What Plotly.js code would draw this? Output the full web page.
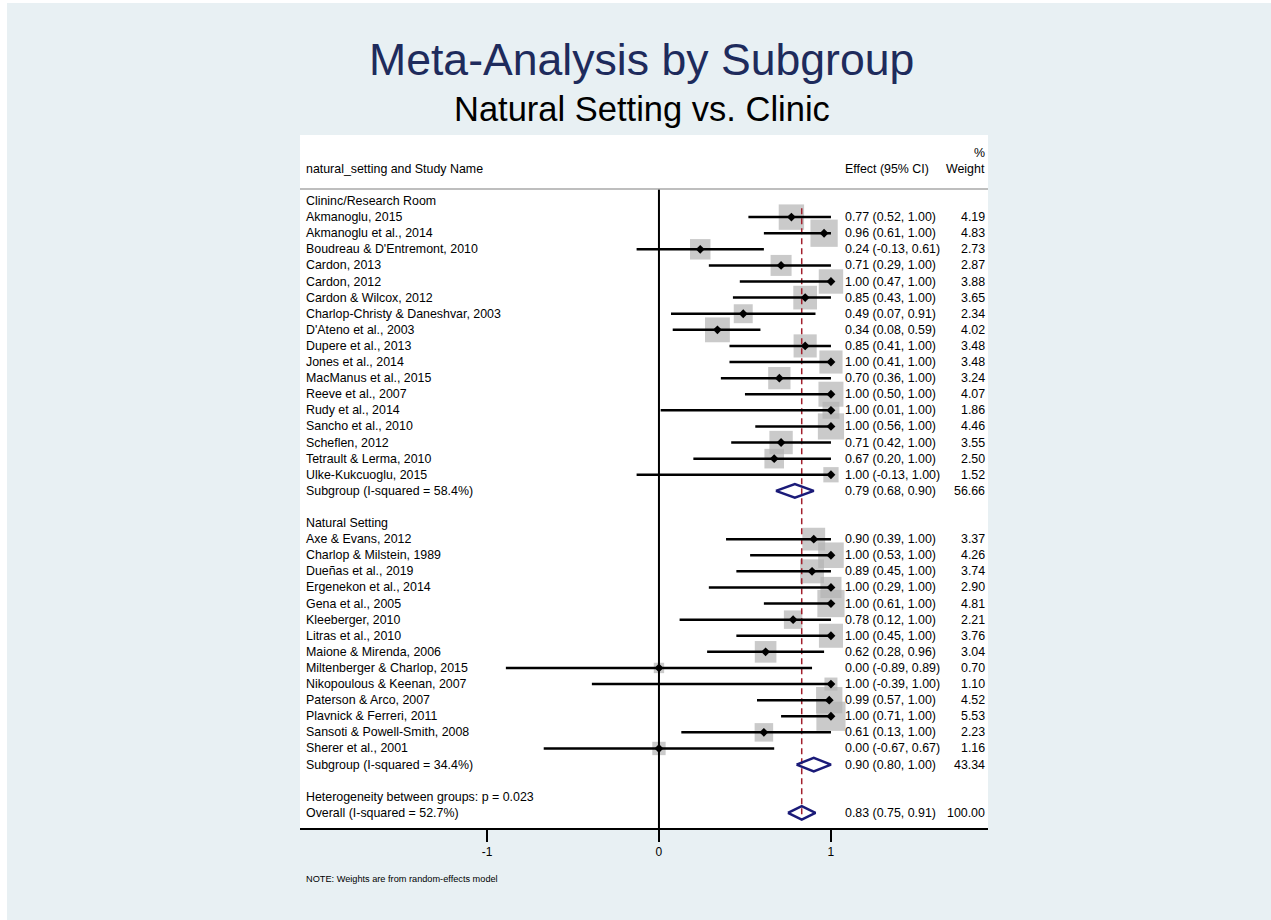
<!DOCTYPE html>
<html>
<head>
<meta charset="utf-8">
<script src="https://cdn.plot.ly/plotly-3.0.1.min.js"></script>
<style>html,body{margin:0;padding:0;background:#e8f0f3;}#chart{width:1271px;height:920px;}</style>
</head>
<body>
<div id="chart"></div>
<script>
// ---------------- DATA ----------------
const groupLabels = ["Clininc/Research Room", "Natural Setting"];

const clinicNames = ["Akmanoglu, 2015", "Akmanoglu et al., 2014", "Boudreau & D'Entremont, 2010", "Cardon, 2013", "Cardon, 2012", "Cardon & Wilcox, 2012", "Charlop-Christy & Daneshvar, 2003", "D'Ateno et al., 2003", "Dupere et al., 2013", "Jones et al., 2014", "MacManus et al., 2015", "Reeve et al., 2007", "Rudy et al., 2014", "Sancho et al., 2010", "Scheflen, 2012", "Tetrault & Lerma, 2010", "Ulke-Kukcuoglu, 2015"];
const clinicES = [0.77, 0.96, 0.24, 0.71, 1.00, 0.85, 0.49, 0.34, 0.85, 1.00, 0.70, 1.00, 1.00, 1.00, 0.71, 0.67, 1.00];
const clinicLo = [0.52, 0.61, -0.13, 0.29, 0.47, 0.43, 0.07, 0.08, 0.41, 0.41, 0.36, 0.50, 0.01, 0.56, 0.42, 0.20, -0.13];
const clinicHi = [1.00, 1.00, 0.61, 1.00, 1.00, 1.00, 0.91, 0.59, 1.00, 1.00, 1.00, 1.00, 1.00, 1.00, 1.00, 1.00, 1.00];
const clinicW  = [4.19, 4.83, 2.73, 2.87, 3.88, 3.65, 2.34, 4.02, 3.48, 3.48, 3.24, 4.07, 1.86, 4.46, 3.55, 2.50, 1.52];

const naturalNames = ["Axe & Evans, 2012", "Charlop & Milstein, 1989", "Dueñas et al., 2019", "Ergenekon et al., 2014", "Gena et al., 2005", "Kleeberger, 2010", "Litras et al., 2010", "Maione & Mirenda, 2006", "Miltenberger & Charlop, 2015", "Nikopoulous & Keenan, 2007", "Paterson & Arco, 2007", "Plavnick & Ferreri, 2011", "Sansoti & Powell-Smith, 2008", "Sherer et al., 2001"];
const naturalES = [0.90, 1.00, 0.89, 1.00, 1.00, 0.78, 1.00, 0.62, 0.00, 1.00, 0.99, 1.00, 0.61, 0.00];
const naturalLo = [0.39, 0.53, 0.45, 0.29, 0.61, 0.12, 0.45, 0.28, -0.89, -0.39, 0.57, 0.71, 0.13, -0.67];
const naturalHi = [1.00, 1.00, 1.00, 1.00, 1.00, 1.00, 1.00, 0.96, 0.89, 1.00, 1.00, 1.00, 1.00, 0.67];
const naturalW  = [3.37, 4.26, 3.74, 2.90, 4.81, 2.21, 3.76, 3.04, 0.70, 1.10, 4.52, 5.53, 2.23, 1.16];

const pooledLabels = ["Subgroup (I-squared = 58.4%)", "Subgroup (I-squared = 34.4%)", "Overall (I-squared = 52.7%)"];
const pooledES = [0.79, 0.90, 0.83];
const pooledLo = [0.68, 0.80, 0.75];
const pooledHi = [0.90, 1.00, 0.91];
const pooledW  = [56.66, 43.34, 100.00];

const heterogeneityText = "Heterogeneity between groups: p = 0.023";
const headerLabel = "natural_setting and Study Name";
const headerEffect = "Effect (95% CI)";
const headerWeight = ["%", "Weight"];
const noteText = "NOTE: Weights are from random-effects model";
const xTicks = [-1, 0, 1];
const xTickLabels = ["-1", "0", "1"];

// ---------------- LAYOUT OF ROWS ----------------
const studies = [];
let row = 0;
const groupRows = [];
const pooledRows = [];
groupRows.push(row); row++;
clinicNames.forEach((n, i) => { studies.push({name: n, es: clinicES[i], lo: clinicLo[i], hi: clinicHi[i], w: clinicW[i], row: row}); row++; });
pooledRows.push(row); row++;
row++; // blank
groupRows.push(row); row++;
naturalNames.forEach((n, i) => { studies.push({name: n, es: naturalES[i], lo: naturalLo[i], hi: naturalHi[i], w: naturalW[i], row: row}); row++; });
pooledRows.push(row); row++;
row++; // blank
const hetRow = row; row++;
pooledRows.push(row); row++;
const lastRow = row - 1;

const fmt = v => v.toFixed(2);
const effTxt = (e, l, h) => fmt(e) + " (" + fmt(l) + ", " + fmt(h) + ")";

const FONT = "Liberation Sans, Arial, Helvetica, sans-serif";
const xName = -2.060, xEff = 1.078, xWt = 1.900;
const BODY = 12.4;

// ---------------- TRACES ----------------
const traces = [];
// weight squares
traces.push({
  type: "scatter", mode: "markers", hoverinfo: "skip", showlegend: false,
  x: studies.map(s => s.es), y: studies.map(s => s.row),
  marker: {symbol: "square", color: "#b4b4b4", size: studies.map(s => 12.4 * Math.sqrt(s.w)), line: {width: 0}}
});
// overall (dashed red) line
traces.push({
  type: "scatter", mode: "lines", hoverinfo: "skip", showlegend: false,
  x: [pooledES[2], pooledES[2]], y: [0.45, lastRow + 0.45],
  line: {color: "#a3202e", width: 1.5, dash: "6px,4px"}
});
// null line at 0
traces.push({
  type: "scatter", mode: "lines", hoverinfo: "skip", showlegend: false,
  x: [0, 0], y: [-0.75, 40], line: {color: "#000000", width: 2}
});
// CI lines
const ciX = [], ciY = [];
studies.forEach(s => { ciX.push(s.lo, s.hi, null); ciY.push(s.row, s.row, null); });
traces.push({
  type: "scatter", mode: "lines", hoverinfo: "skip", showlegend: false,
  x: ciX, y: ciY, line: {color: "#000000", width: 2.5}
});
// point estimates
traces.push({
  type: "scatter", mode: "markers", hoverinfo: "skip", showlegend: false,
  x: studies.map(s => s.es), y: studies.map(s => s.row),
  marker: {symbol: "diamond", color: "#000000", size: 6.8, line: {width: 0}}
});
// pooled diamonds
const dX = [], dY = [];
pooledRows.forEach((r, i) => {
  dX.push(pooledLo[i], pooledES[i], pooledHi[i], pooledES[i], pooledLo[i], null);
  dY.push(r, r - 0.42, r, r + 0.42, r, null);
});
traces.push({
  type: "scatter", mode: "lines", hoverinfo: "skip", showlegend: false,
  x: dX, y: dY, line: {color: "#1a1a78", width: 2.5}
});

// ---------------- ANNOTATIONS ----------------
const ann = [];
function txt(x, y, t, anchor, size, color, xref, yref) {
  ann.push({x: x, y: y, xref: xref || "x", yref: yref || "y", text: t, showarrow: false,
    xanchor: anchor || "left", yanchor: "middle", borderpad: 0,
    font: {family: FONT, size: size || BODY, color: color || "#000000"}});
}
txt(xName, -2, headerLabel);
txt(xEff, -2, headerEffect);
txt(xWt, -3, headerWeight[0], "right");
txt(xWt, -2, headerWeight[1], "right");
groupRows.forEach((r, i) => txt(xName, r, groupLabels[i]));
studies.forEach(s => {
  txt(xName, s.row, s.name);
  txt(xEff, s.row, effTxt(s.es, s.lo, s.hi));
  txt(xWt, s.row, fmt(s.w), "right");
});
pooledRows.forEach((r, i) => {
  txt(xName, r, pooledLabels[i]);
  txt(xEff, r, effTxt(pooledES[i], pooledLo[i], pooledHi[i]));
  txt(xWt, r, fmt(pooledW[i]), "right");
});
txt(xName, hetRow, heterogeneityText);
// titles
ann.push({xref: "paper", yref: "paper", x: 0.497, y: (828 - 59) / 693, text: "Meta-Analysis by Subgroup", showarrow: false,
  xanchor: "center", yanchor: "middle", font: {family: FONT, size: 44.6, color: "#1e2b5c"}});
ann.push({xref: "paper", yref: "paper", x: 0.497, y: (828 - 109) / 693, text: "Natural Setting vs. Clinic", showarrow: false,
  xanchor: "center", yanchor: "middle", font: {family: FONT, size: 34.5, color: "#000000"}});
ann.push({xref: "paper", yref: "paper", x: (304 - 300) / 688, y: (828 - 879) / 693, text: noteText, showarrow: false,
  xanchor: "left", yanchor: "middle", font: {family: FONT, size: 9.2, color: "#000000"}});

const layout = {
  width: 1271, height: 920,
  margin: {l: 300, r: 283, t: 135, b: 92, pad: 0},
  paper_bgcolor: "#e8f0f3", plot_bgcolor: "#ffffff",
  showlegend: false,
  xaxis: {range: [-2.087, 1.913], showgrid: false, zeroline: false, showline: true, linecolor: "#000000", linewidth: 2,
    ticks: "outside", ticklen: 12, tickwidth: 2, tickcolor: "#000000", tickvals: xTicks, ticktext: xTickLabels,
    tickfont: {family: FONT, size: 12, color: "#000000"}, fixedrange: true},
  yaxis: {range: [38.94, -4.1], visible: false, fixedrange: true},
  annotations: ann,
  shapes: [
    {type: "line", xref: "paper", yref: "y", x0: 0, x1: 1, y0: -0.75, y1: -0.75, line: {color: "#a8a8a8", width: 1.5}},
    {type: "rect", xref: "paper", yref: "paper", x0: -300 / 688, x1: -293 / 688, y0: -92 / 693, y1: 828 / 693, fillcolor: "#ffffff", line: {width: 0}},
    {type: "rect", xref: "paper", yref: "paper", x0: -300 / 688, x1: 971 / 688, y0: 825 / 693, y1: 828 / 693, fillcolor: "#ffffff", line: {width: 0}}
  ]
};

Plotly.newPlot("chart", traces, layout, {staticPlot: true, displayModeBar: false});
</script>
</body>
</html>
